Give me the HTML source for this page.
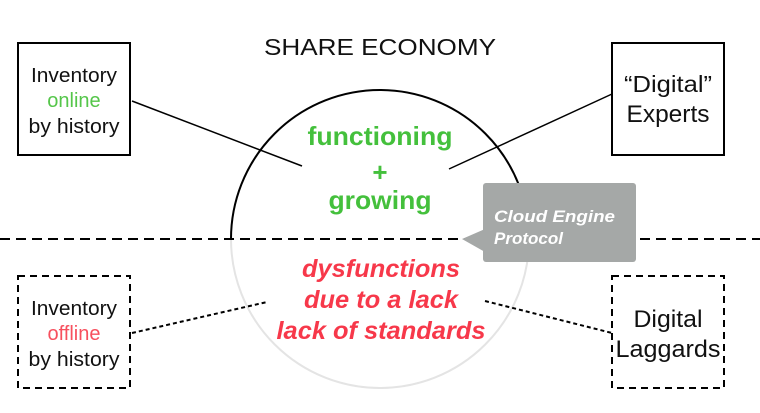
<!DOCTYPE html>
<html><head><meta charset="utf-8"><style>
html,body{margin:0;padding:0;background:#fff;}
svg{display:block;}
</style></head><body>
<svg width="760" height="413" viewBox="0 0 760 413" xmlns="http://www.w3.org/2000/svg" font-family="Liberation Sans, sans-serif">
<rect width="760" height="413" fill="#fff"/>
<path d="M231,239 A149,149 0 0 1 529,239" fill="none" stroke="#000" stroke-width="2"/>
<path d="M231,239 A149,149 0 0 0 529,239" fill="none" stroke="#e4e4e4" stroke-width="2"/>
<line x1="0" y1="239" x2="760" y2="239" stroke="#000" stroke-width="2" stroke-dasharray="10,6"/>
<rect x="18" y="43" width="112" height="112" fill="none" stroke="#000" stroke-width="2"/>
<rect x="612" y="43" width="112" height="112" fill="none" stroke="#000" stroke-width="2"/>
<rect x="18" y="276" width="112" height="112" fill="none" stroke="#000" stroke-width="2" stroke-dasharray="7,5"/>
<rect x="612" y="276" width="112" height="112" fill="none" stroke="#000" stroke-width="2" stroke-dasharray="7,5"/>
<line x1="132" y1="101" x2="302" y2="166" stroke="#000" stroke-width="1.5"/>
<line x1="449" y1="169" x2="612" y2="94" stroke="#000" stroke-width="1.5"/>
<line x1="132" y1="333" x2="267" y2="302" stroke="#000" stroke-width="2" stroke-dasharray="4,3"/>
<line x1="485" y1="301" x2="612" y2="333" stroke="#000" stroke-width="2" stroke-dasharray="4,3"/>
<rect x="483" y="183" width="153" height="79" rx="3" fill="#a5a8a7"/>
<polygon points="462,239 485,229 485,252" fill="#a5a8a7"/>
<text x="494" y="222" font-size="17" font-weight="bold" font-style="italic" fill="#fff" textLength="121" lengthAdjust="spacingAndGlyphs">Cloud Engine</text>
<text x="494" y="244" font-size="17" font-weight="bold" font-style="italic" fill="#fff">Protocol</text>
<text x="380" y="55" font-size="23" text-anchor="middle" fill="#111" textLength="232" lengthAdjust="spacingAndGlyphs">SHARE ECONOMY</text>
<g font-size="20" text-anchor="middle" fill="#111">
<text x="74" y="82" textLength="86" lengthAdjust="spacingAndGlyphs">Inventory</text>
<text x="74" y="107" fill="#55c64a">online</text>
<text x="74" y="133" textLength="91" lengthAdjust="spacingAndGlyphs">by history</text>
<text x="668" y="92" font-size="23" textLength="88" lengthAdjust="spacingAndGlyphs">“Digital”</text>
<text x="668" y="122" font-size="24" textLength="83" lengthAdjust="spacingAndGlyphs">Experts</text>
<text x="74" y="315" textLength="86" lengthAdjust="spacingAndGlyphs">Inventory</text>
<text x="74" y="340" fill="#f7505e">offline</text>
<text x="74" y="366" textLength="91" lengthAdjust="spacingAndGlyphs">by history</text>
<text x="668" y="327" font-size="24" textLength="69" lengthAdjust="spacingAndGlyphs">Digital</text>
<text x="668" y="357" font-size="24" textLength="105" lengthAdjust="spacingAndGlyphs">Laggards</text>
</g>
<g font-size="26" font-weight="bold" text-anchor="middle" fill="#44c03c">
<text x="380" y="145" textLength="145" lengthAdjust="spacingAndGlyphs">functioning</text>
<text x="380" y="181">+</text>
<text x="380" y="209" textLength="103" lengthAdjust="spacingAndGlyphs">growing</text>
</g>
<g font-size="25" font-weight="bold" font-style="italic" text-anchor="middle" fill="#f7384a">
<text x="381" y="277" textLength="158" lengthAdjust="spacingAndGlyphs">dysfunctions</text>
<text x="381" y="308" textLength="154" lengthAdjust="spacingAndGlyphs">due to a lack</text>
<text x="381" y="339" textLength="209" lengthAdjust="spacingAndGlyphs">lack of standards</text>
</g>
</svg>
</body></html>
